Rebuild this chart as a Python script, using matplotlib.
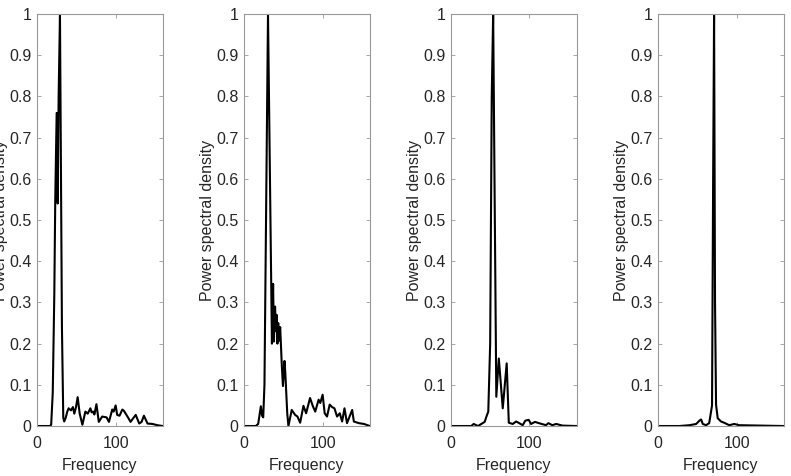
import matplotlib
matplotlib.use("Agg")
import matplotlib.pyplot as plt

plt.rcParams['font.family'] = ['Liberation Sans', 'DejaVu Sans']

# panel 1
freq1 = [0, 16.5, 18, 20, 22, 23.2, 25, 26.3, 27.5, 29.2, 30.5, 31.7, 33.4, 34.6, 36.5, 38.5,
         40.2, 43.2, 45.7, 47.4, 49.5, 51.7, 54.3, 57.7, 61.5, 64.5, 67.9, 69.5, 71.4, 73,
         75.6, 78.6, 82.9, 85.5, 88.5, 91.5, 95.7, 97.5, 100, 102, 105, 108.5, 110.5, 112.8,
         116, 119, 122, 125.6, 130, 133, 136, 140.6, 147, 153, 160]
psd1 = [0, 0, 0.003, 0.08, 0.32, 0.55, 0.76, 0.54, 0.8, 1.0, 0.6, 0.24, 0.02, 0.011, 0.02, 0.035,
        0.043, 0.038, 0.046, 0.03, 0.045, 0.07, 0.03, 0.003, 0.035, 0.03, 0.043, 0.033, 0.035, 0.028,
        0.053, 0.01, 0.023, 0.022, 0.021, 0.01, 0.04, 0.035, 0.05, 0.027, 0.025, 0.04, 0.037, 0.03,
        0.02, 0.01, 0.018, 0.027, 0.006, 0.01, 0.025, 0.006, 0.005, 0.002, 0]

# panel 2
freq2 = [0, 15, 18, 20, 21.4, 23, 24.4, 26, 28, 30.5, 33, 35.5, 37, 38, 39.5, 40.5, 41.5, 42.5,
         43.5, 44.5, 46, 48, 49.5, 51.5, 52.5, 55, 56.5, 60.7, 65, 68, 71.4, 75.6, 79, 84, 87.6,
         90.6, 94.9, 97, 100, 102.6, 105.6, 109, 112, 115, 118.4, 121.8, 124.8, 127.8, 131,
         137.6, 139.7, 146, 152.6, 160]
psd2 = [0, 0, 0.005, 0.03, 0.048, 0.025, 0.021, 0.1, 0.5, 1.0, 0.6, 0.2, 0.345, 0.205, 0.29, 0.23,
        0.27, 0.2, 0.25, 0.207, 0.24, 0.15, 0.097, 0.158, 0.13, 0.03, 0.0, 0.039, 0.027, 0.023,
        0.008, 0.049, 0.031, 0.068, 0.048, 0.035, 0.064, 0.056, 0.076, 0.031, 0.023, 0.052, 0.046,
        0.043, 0.023, 0.031, 0.011, 0.043, 0.007, 0.039, 0.011, 0.007, 0.005, 0]

# panel 3
freq3 = [0, 26, 29, 34.5, 43, 46, 47.6, 50, 52, 53.8, 55.5, 57.8, 61, 66, 71, 73.7, 78.7, 83, 86,
         91.4, 94.7, 99, 102, 107, 112, 121, 124, 129, 134, 142, 160]
psd3 = [0, 0, 0.005, 0, 0.01, 0.027, 0.035, 0.2, 0.8, 1.0, 0.6, 0.071, 0.164, 0.043, 0.152, 0.008,
        0.005, 0.011, 0.008, 0.002, 0.013, 0.015, 0.005, 0.01, 0.007, 0.002, 0.007, 0.002, 0.005,
        0.001, 0]

# panel 4
freq4 = [0, 27, 40, 48.4, 52.6, 54.7, 56.8, 61, 65, 68.6, 70, 71.2, 72.4, 73.7, 75.8, 80, 84,
         90.5, 96.8, 103, 160]
psd4 = [0, 0, 0.002, 0.005, 0.013, 0.016, 0.005, 0.002, 0.007, 0.05, 0.6, 1.0, 0.3, 0.052, 0.019,
        0.011, 0.008, 0.002, 0.005, 0.002, 0]

series = [(freq1, psd1), (freq2, psd2), (freq3, psd3), (freq4, psd4)]
yticks = [i / 10 for i in range(11)]
ytick_labels = ['0', '0.1', '0.2', '0.3', '0.4', '0.5', '0.6', '0.7', '0.8', '0.9', '1']

fig = plt.figure(figsize=(7.91, 4.76), dpi=100)
lefts = [0.0468, 0.3085, 0.570, 0.832]
for left, (f, p) in zip(lefts, series):
    ax = fig.add_axes([left, 0.105, 0.159, 0.8655])
    ax.plot(f, p, color='black', lw=1.5)
    ax.set_xlim(0, 160)
    ax.set_ylim(0, 1)
    ax.set_xticks([0, 100])
    ax.set_yticks(yticks)
    ax.set_yticklabels(ytick_labels)
    ax.tick_params(direction='in', top=True, right=True, length=3, width=0.6,
                   colors='#999999', labelcolor='#262626', labelsize=11.5, pad=4)
    ax.tick_params(axis='x', pad=7)
    for s in ax.spines.values():
        s.set_color('#999999')
        s.set_linewidth(0.8)
    ax.set_xlabel('Frequency', fontsize=11.5, color='#262626', labelpad=5)
    ax.set_ylabel('Power spectral density', fontsize=11.5, color='#262626', labelpad=1)

fig.savefig('out.png', dpi=100)
